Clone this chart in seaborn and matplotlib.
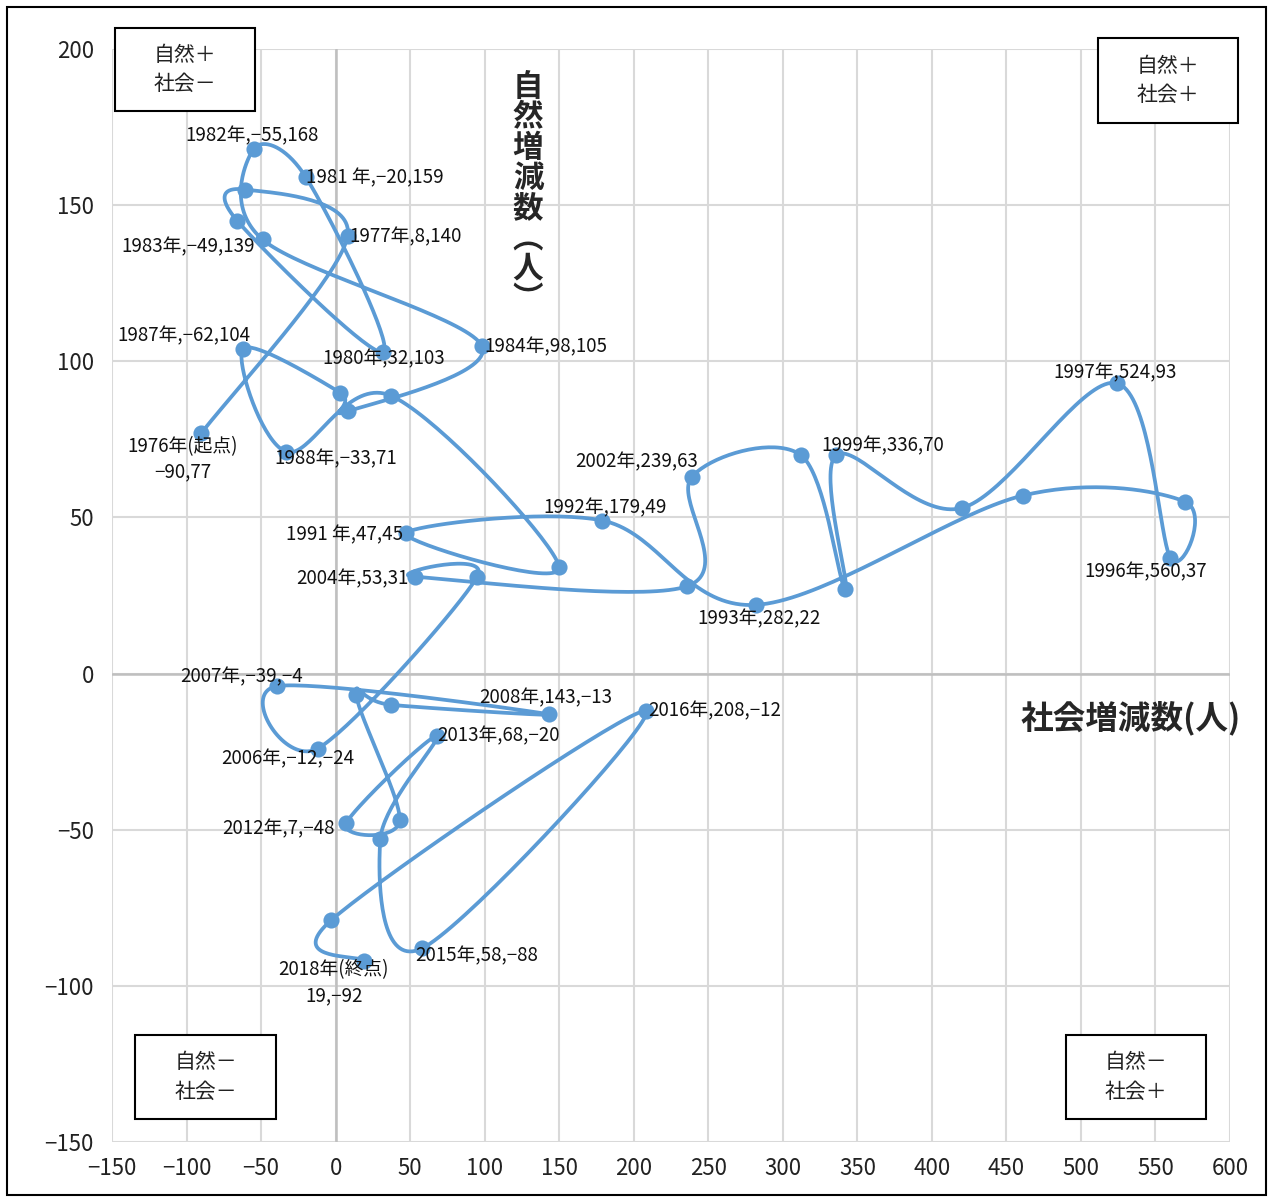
import numpy as np
import pandas as pd
import matplotlib
matplotlib.use('Agg')
import matplotlib.pyplot as plt
import seaborn as sns
from matplotlib.patches import Rectangle

sns.set_style('white')
plt.rcParams['font.family'] = ['Noto Sans CJK JP', 'DejaVu Sans']

# data: (social change, natural change) per year
years = list(range(1976, 2019))
social = [-90, 8, -61, -66, 32, -20, -55, -49, 98, 8,
          3, -62, -33, 37, 150, 47, 179, 282, 461, 570,
          560, 524, 420, 336, 342, 312, 239, 236, 53, 95,
          -12, -39, 143, 37, 14, 43, 7, 68, 30, 58,
          208, -3, 19]
natural = [77, 140, 155, 145, 103, 159, 168, 139, 105, 84,
           90, 104, 71, 89, 34, 45, 49, 22, 57, 55,
           37, 93, 53, 70, 27, 70, 63, 28, 31, 31,
           -24, -4, -13, -10, -7, -47, -48, -20, -53, -88,
           -12, -79, -92]

label_years = [1976, 1977, 1980, 1981, 1982, 1983, 1984, 1987, 1988, 1991,
               1992, 1993, 1996, 1997, 1999, 2002, 2004, 2006, 2007, 2008,
               2012, 2013, 2015, 2016, 2018]
label_texts = ['1976年(起点)\n−90,77', '1977年,8,140', '1980年,32,103', '1981 年,−20,159',
               '1982年,−55,168', '1983年,−49,139', '1984年,98,105', '1987年,−62,104',
               '1988年,−33,71', '1991 年,47,45', '1992年,179,49', '1993年,282,22',
               '1996年,560,37', '1997年,524,93', '1999年,336,70', '2002年,239,63',
               '2004年,53,31', '2006年,−12,−24', '2007年,−39,−4', '2008年,143,−13',
               '2012年,7,−48', '2013年,68,−20', '2015年,58,−88', '2016年,208,−12',
               '2018年(終点)\n19,−92']
# label placement: (dx px, dy px, ha)
label_pos = [(-19, -26, 'center'), (2, 0, 'left'), (0, -7, 'center'), (0, -1, 'left'),
             (-2, 13, 'center'), (-8, -7, 'right'), (3, -1, 'left'), (7, 13, 'right'),
             (-12, -7, 'left'), (-3, -2, 'right'), (3, 13, 'center'), (3, -14, 'center'),
             (-25, -14, 'center'), (-2, 10, 'center'), (-15, 9, 'left'), (6, 15, 'right'),
             (-6, -2, 'right'), (-30, -10, 'center'), (-36, 9, 'center'), (-3, 16, 'center'),
             (-11, -5, 'right'), (0, 0, 'left'), (-7, -7, 'left'), (3, 0, 'left'),
             (-30, -22, 'center')]

xticks = list(range(-150, 601, 50))
yticks = list(range(-150, 201, 50))

df = pd.DataFrame({'year': years, 'social': social, 'natural': natural})

W, H = 1269, 1198
fig = plt.figure(figsize=(W / 100, H / 100), dpi=100)
ax = fig.add_axes([112 / W, 1 - 1142 / H, (1230 - 112) / W, (1142 - 49) / H])

# Excel-like smoothed line (bezier through points, computed in screen proportions)
sx, sy = (1230 - 112) / 750, (1142 - 49) / 350


def smooth(xs, ys, n=40):
    P = np.column_stack([np.asarray(xs) * sx, np.asarray(ys) * sy]).astype(float)
    ext = np.vstack([P[0], P, P[-1]])
    t = np.linspace(0, 1, n)[:, None]
    segs = []
    for i in range(len(P) - 1):
        p0, p1, p2, p3 = ext[i], ext[i + 1], ext[i + 2], ext[i + 3]
        c1 = p1 + (p2 - p0) / 6
        c2 = p2 - (p3 - p1) / 6
        seg = (1 - t) ** 3 * p1 + 3 * (1 - t) ** 2 * t * c1 + 3 * (1 - t) * t ** 2 * c2 + t ** 3 * p2
        segs.append(seg if i == 0 else seg[1:])
    pts = np.vstack(segs)
    return pts[:, 0] / sx, pts[:, 1] / sy


cx, cy = smooth(df['social'], df['natural'])
curve = pd.DataFrame({'x': cx, 'y': cy})

blue = '#5b9bd5'
sns.lineplot(data=curve, x='x', y='y', sort=False, estimator=None, color=blue,
             linewidth=2.7, ax=ax, zorder=3)
sns.scatterplot(data=df, x='social', y='natural', color=blue, s=135, edgecolor=blue,
                linewidth=0, ax=ax, zorder=4)

for yr, txt, (dx, dy, ha) in zip(label_years, label_texts, label_pos):
    i = years.index(yr)
    ax.annotate(txt, (social[i], natural[i]), xytext=(dx, dy), textcoords='offset pixels',
                ha=ha, va='center', fontsize=13.5, color='#111111', zorder=5,
                linespacing=1.3, multialignment='center')

ax.set_xlim(-150, 600)
ax.set_ylim(-150, 200)
ax.set_xticks(xticks)
ax.set_yticks(yticks)
ax.grid(True, color='#d9d9d9', linewidth=1.5)
ax.axvline(0, color='#bfbfbf', linewidth=1.8, zorder=2)
ax.axhline(0, color='#bfbfbf', linewidth=1.8, zorder=2)
for s in ax.spines.values():
    s.set_visible(False)
ax.tick_params(length=0, labelsize=16, colors='#222222')
ax.tick_params(axis='y', pad=13)
ax.tick_params(axis='x', pad=11)
ax.set_xlabel('')
ax.set_ylabel('')

# axis titles (vertical one stacked character by character)
fig.text(528 / W, 1 - 193 / H, '\n'.join('自然増減数︵人︶'), ha='center', va='center',
         fontsize=22, fontweight='bold', linespacing=0.93)
fig.text(1131 / W, 1 - 718 / H, '社会増減数(人)', ha='center', va='center',
         fontsize=23.5, fontweight='bold')

# quadrant boxes
boxes = [((115, 28, 255, 111), '自然＋\n社会－'),
         ((1098, 38, 1238, 123), '自然＋\n社会＋'),
         ((135, 1035, 276, 1119), '自然－\n社会－'),
         ((1066, 1035, 1206, 1119), '自然－\n社会＋')]
for (x0, y0, x1, y1), txt in boxes:
    fig.add_artist(Rectangle((x0 / W, 1 - y1 / H), (x1 - x0) / W, (y1 - y0) / H,
                             transform=fig.transFigure, facecolor='white',
                             edgecolor='black', linewidth=1.5, zorder=6))
    fig.text((x0 + x1) / 2 / W, 1 - (y0 + y1) / 2 / H, txt, ha='center', va='center',
             fontsize=15, linespacing=1.45, zorder=7, color='#222222')

# outer frame
fig.add_artist(Rectangle((7 / W, 3 / H), (W - 10) / W, (H - 10) / H, transform=fig.transFigure,
                         fill=False, edgecolor='black', linewidth=1.5, zorder=8))

fig.savefig('out.png', dpi=100)
